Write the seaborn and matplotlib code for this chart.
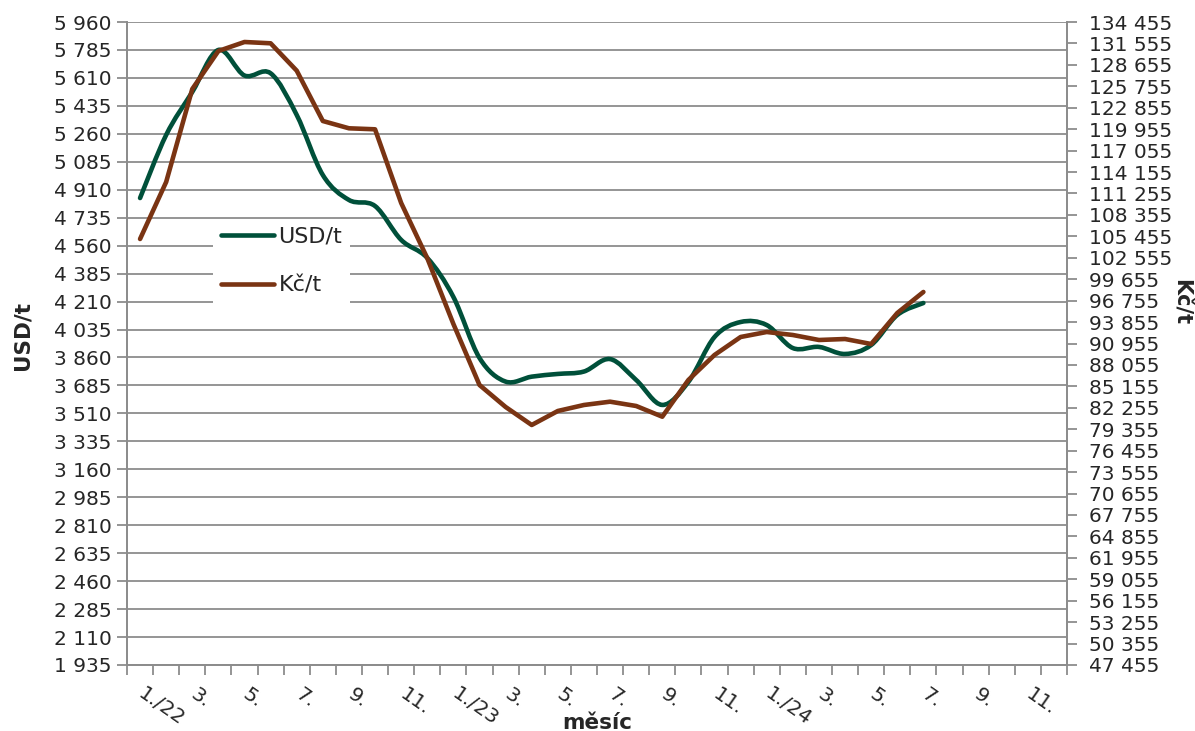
"""
Cena USD/t a Kč/t po měsících (1/2022 - 7/2024)
"""

import numpy as np
import matplotlib
matplotlib.use('Agg')
import matplotlib.pyplot as plt
import matplotlib.transforms as mtransforms
import seaborn as sns
from matplotlib.path import Path
from matplotlib.patches import PathPatch
from matplotlib.lines import Line2D
from matplotlib.ticker import FixedLocator

sns.set_style("white")
plt.rcParams['font.family'] = ['DejaVu Sans']

# ---- data ----
n_categories = 36  # 1/22 .. 12/24
month_labels = ['1./22', '3.', '5.', '7.', '9.', '11.',
                '1./23', '3.', '5.', '7.', '9.', '11.',
                '1./24', '3.', '5.', '7.', '9.', '11.']

usd_t = [4858, 5253, 5522, 5785, 5625, 5639, 5378, 5002, 4846, 4808,
         4596, 4483, 4239, 3857, 3709, 3740, 3757, 3772, 3850, 3719,
         3563, 3707, 3988, 4082, 4063, 3919, 3926, 3882, 3938, 4126, 4201]

czk_t = [105095, 112807, 125390, 130531, 131749, 131573, 127866, 121060,
         120073, 119937, 109966, 102500, 93600, 85341, 82365, 79929,
         81824, 82635, 83083, 82500, 81052, 86018, 89400, 91835, 92512,
         92106, 91429, 91564, 90888, 95082, 97926]

usd_ticks = list(range(1935, 5960 + 1, 175))
czk_ticks = list(range(47455, 134455 + 1, 2900))

green = '#00503a'
brown = '#7a3413'
grid_c = '#8c8c8c'


def fmt(v):
    return f"{v:,}".replace(',', ' ')


def smooth_path(xs, ys):
    # Excel-like smoothed line: cubic bezier through the points
    pts = np.column_stack([xs, ys]).astype(float)
    n = len(pts)
    verts = [pts[0]]
    codes = [Path.MOVETO]
    for i in range(n - 1):
        p0 = pts[i - 1] if i > 0 else pts[i]
        p1 = pts[i]
        p2 = pts[i + 1]
        p3 = pts[i + 2] if i + 2 < n else pts[i + 1]
        verts += [p1 + (p2 - p0) / 6, p2 - (p3 - p1) / 6, p2]
        codes += [Path.CURVE4] * 3
    return Path(verts, codes)


fig = plt.figure(figsize=(11.95, 7.31), dpi=100)
ax = fig.add_axes([127 / 1195, 1 - 665 / 731, 940 / 1195, 643 / 731])
ax2 = ax.twinx()

x = np.arange(len(usd_t))

# USD/t - smoothed line on left axis
ax.add_patch(PathPatch(smooth_path(x, usd_t), facecolor='none', edgecolor=green,
                       lw=3.3, capstyle='round', joinstyle='round', zorder=3))

# Kč/t - straight segments on right axis
sns.lineplot(x=x, y=czk_t, ax=ax2, color=brown, lw=3.3, zorder=3)
ax2.lines[-1].set_solid_joinstyle('round')
ax2.lines[-1].set_solid_capstyle('round')

# axes limits
ax.set_xlim(-0.5, n_categories - 0.5)
ax.set_ylim(usd_ticks[0], usd_ticks[-1])
ax2.set_ylim(czk_ticks[0], czk_ticks[-1])

# left axis
ax.set_yticks(usd_ticks)
ax.set_yticklabels([fmt(v) for v in usd_ticks], fontsize=14.5)
ax.yaxis.grid(True, color=grid_c, lw=1.3)
ax.set_axisbelow(True)
ax.tick_params(axis='y', direction='out', length=7, width=1.3, color=grid_c, pad=4, left=True)

# right axis
ax2.set_yticks(czk_ticks)
ax2.set_yticklabels([fmt(v) for v in czk_ticks], fontsize=14.5)
ax2.tick_params(axis='y', direction='out', length=7, width=1.3, color=grid_c, pad=9, right=True)

# x axis: ticks between categories, labels every other month
ax.xaxis.set_minor_locator(FixedLocator(np.arange(-0.5, n_categories, 1.0)))
ax.set_xticks(np.arange(0, n_categories, 2))
ax.set_xticklabels(month_labels, fontsize=14.5, rotation=-35, ha='left',
                   rotation_mode='anchor')
ax.tick_params(axis='x', which='major', length=0, pad=14)
ax.tick_params(axis='x', which='minor', direction='out', length=7, width=1.3,
               color=grid_c, bottom=True)
shift = mtransforms.ScaledTranslation(6 / 100, 0, fig.dpi_scale_trans)
for lbl in ax.get_xticklabels():
    lbl.set_transform(lbl.get_transform() + shift)

for a in (ax, ax2):
    a.spines['top'].set_visible(False)
    for side in ('left', 'right', 'bottom'):
        a.spines[side].set_color(grid_c)
        a.spines[side].set_linewidth(1.3)

# axis titles
ax.set_xlabel('měsíc', fontsize=15.5, fontweight='bold', va='top')
ax.xaxis.set_label_coords(0.5, -0.074)
ax.set_ylabel('USD/t', fontsize=15.5, fontweight='bold')
ax.yaxis.set_label_coords(-0.101, 0.513)
fig.text(1181 / 1195, 1 - 302 / 731, 'Kč/t', fontsize=15, fontweight='bold',
         rotation=-90, ha='center', va='center')

# legend
handles = [Line2D([], [], color=green, lw=3.3), Line2D([], [], color=brown, lw=3.3)]
leg = ax2.legend(handles, ['USD/t', 'Kč/t'], loc='upper left',
                 bbox_to_anchor=((213 - 127) / 940, (665 - 219) / 643),
                 fontsize=16, frameon=True, facecolor='white', edgecolor='none',
                 framealpha=1, fancybox=False, borderpad=0.35, borderaxespad=0,
                 handlelength=2.4, handletextpad=0.2, labelspacing=1.3)
leg.get_frame().set_linewidth(0)

fig.savefig('out.png', dpi=100)
